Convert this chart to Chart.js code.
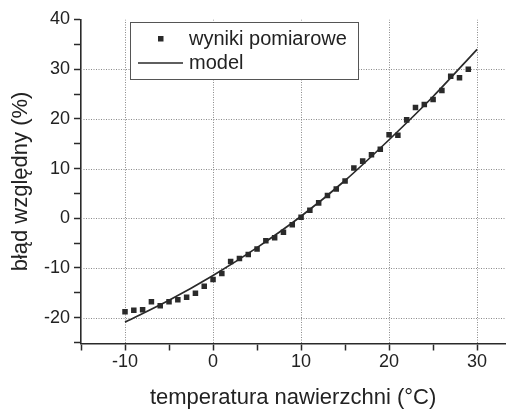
<!DOCTYPE html>
<html>
<head>
<meta charset="utf-8">
<script src="https://cdn.jsdelivr.net/npm/chart.js@4/dist/chart.umd.min.js"></script>
<style>
  html, body { margin: 0; padding: 0; background: #fff; }
</style>
</head>
<body>
<canvas id="c" width="509" height="412"></canvas>
<script>
// ---- data ----
const temps = [-10,-9,-8,-7,-6,-5,-4,-3,-2,-1,0,1,2,3,4,5,6,7,8,9,10,11,12,13,14,15,16,17,18,19,20,21,22,23,24,25,26,27,28,29];
const measured = [-18.8,-18.5,-18.4,-16.8,-17.6,-16.8,-16.4,-15.9,-15.1,-13.7,-12.3,-11.1,-8.7,-8.1,-7.3,-6.2,-4.5,-3.9,-2.8,-1.3,0.2,1.6,3.1,4.6,5.9,7.5,10.1,11.5,12.8,13.9,16.8,16.7,19.8,22.3,22.9,23.9,25.7,28.6,28.3,30.0];
const modelT = [-10,-5,0,5,10,15,20,25,30];
const modelVals = [-20.9,-16.5,-11.5,-5.9,0.4,7.6,15.8,24.5,34.0];
const xTicks = [-15,-10,-5,0,5,10,15,20,25,30];
const xTickLabels = ['', '-10', '', '0', '', '10', '', '20', '', '30'];
const yTicks = [-25,-20,-15,-10,-5,0,5,10,15,20,25,30,35,40];
const yTickLabels = ['', '-20', '', '-10', '', '0', '', '10', '', '20', '', '30', '', '40'];
const seriesLabels = ['wyniki pomiarowe', 'model'];
const xTitle = 'temperatura nawierzchni (\u00B0C)';
const yTitle = 'b\u0142\u0105d wzgl\u0119dny (%)';

const FONT = "'Liberation Sans', Arial, sans-serif";
const DARK = '#2a2a2a';
const GRID = '#8a8a8a';

// dotted grid at the labelled ticks inside the plot, placed through the chart's scales
const gridPlugin = {
  id: 'dottedGrid',
  beforeDatasetsDraw(chart) {
    const ctx = chart.ctx, a = chart.chartArea;
    const xs = chart.scales.x, ys = chart.scales.y;
    ctx.save();
    ctx.beginPath();
    ctx.rect(a.left, a.top, a.right - a.left, a.bottom - a.top);
    ctx.clip();
    ctx.strokeStyle = GRID;
    ctx.lineWidth = 1;
    ctx.setLineDash([1, 1.5]);
    xTicks.forEach((v, i) => {
      if (xTickLabels[i] === '') return;
      const p = Math.round(xs.getPixelForValue(v)) + 0.5;
      ctx.beginPath(); ctx.moveTo(p, a.top); ctx.lineTo(p, a.bottom); ctx.stroke();
    });
    yTicks.forEach((v, i) => {
      if (yTickLabels[i] === '' || v === ys.max) return;
      const p = Math.round(ys.getPixelForValue(v)) + 0.5;
      ctx.beginPath(); ctx.moveTo(a.left, p); ctx.lineTo(a.right, p); ctx.stroke();
    });
    ctx.restore();
  }
};

const legendPlugin = {
  id: 'innerLegend',
  afterDraw(chart) {
    const ctx = chart.ctx;
    ctx.save();
    const bx = 130.5, by = 22.5, bw = 228, bh = 57;
    ctx.fillStyle = '#fff';
    ctx.fillRect(bx, by, bw, bh);
    ctx.strokeStyle = '#555';
    ctx.lineWidth = 1;
    ctx.strokeRect(bx, by, bw, bh);
    ctx.fillStyle = DARK;
    ctx.fillRect(158, 36, 5.5, 5.5);
    ctx.strokeStyle = DARK;
    ctx.lineWidth = 1.6;
    ctx.beginPath();
    ctx.moveTo(138, 63);
    ctx.lineTo(183, 63);
    ctx.stroke();
    ctx.fillStyle = '#222';
    ctx.font = '20px ' + FONT;
    ctx.textBaseline = 'middle';
    ctx.textAlign = 'left';
    ctx.fillText(seriesLabels[0], 189, 39);
    ctx.fillText(seriesLabels[1], 189, 63);
    ctx.restore();
  }
};

new Chart(document.getElementById('c'), {
  type: 'scatter',
  data: {
    datasets: [
      {
        label: seriesLabels[0],
        data: temps.map((t, i) => ({ x: t, y: measured[i] })),
        pointStyle: 'rect',
        pointRadius: 3.9,
        pointHoverRadius: 3.9,
        backgroundColor: DARK,
        borderColor: DARK,
        borderWidth: 0,
        showLine: false
      },
      {
        label: seriesLabels[1],
        data: modelT.map((t, i) => ({ x: t, y: modelVals[i] })),
        showLine: true,
        pointRadius: 0,
        borderColor: DARK,
        backgroundColor: DARK,
        borderWidth: 1.7,
        cubicInterpolationMode: 'monotone',
        fill: false
      }
    ]
  },
  options: {
    responsive: false,
    animation: false,
    devicePixelRatio: 1,
    layout: { padding: { top: 19.5, right: 0, left: 0, bottom: 0 } },
    plugins: { legend: { display: false }, tooltip: { enabled: false } },
    scales: {
      x: {
        type: 'linear',
        min: -15,
        max: 33.18,
        afterBuildTicks: s => { s.ticks = xTicks.map(v => ({ value: v })); },
        afterFit: s => { s.height = 68.5; s.paddingRight = 0; s.paddingLeft = 0; },
        ticks: {
          autoSkip: false,
          maxRotation: 0,
          padding: 1,
          color: '#222',
          font: { family: FONT, size: 18 },
          callback: (v) => { const i = xTicks.indexOf(v); return i >= 0 ? xTickLabels[i] : ''; }
        },
        grid: {
          drawOnChartArea: false,
          color: DARK,
          tickColor: DARK,
          tickLength: 7,
          tickWidth: 1.5
        },
        border: { color: DARK, width: 1.6 },
        title: {
          display: true,
          text: xTitle,
          color: '#222',
          font: { family: FONT, size: 22 },
          padding: { top: 0, bottom: 1 }
        }
      },
      y: {
        type: 'linear',
        min: -25.2,
        max: 40,
        afterBuildTicks: s => { s.ticks = yTicks.map(v => ({ value: v })); },
        afterFit: s => { s.width = 81; },
        ticks: {
          autoSkip: false,
          padding: 4,
          color: '#222',
          font: { family: FONT, size: 18 },
          callback: (v) => { const i = yTicks.indexOf(v); return i >= 0 ? yTickLabels[i] : ''; }
        },
        grid: {
          drawOnChartArea: false,
          color: DARK,
          tickColor: DARK,
          tickLength: 7,
          tickWidth: 1.5
        },
        border: { color: DARK, width: 1.6 },
        title: {
          display: true,
          text: yTitle,
          color: '#222',
          font: { family: FONT, size: 22 },
          padding: { top: 8, bottom: 0 }
        }
      }
    }
  },
  plugins: [gridPlugin, legendPlugin]
});
</script>
</body>
</html>
